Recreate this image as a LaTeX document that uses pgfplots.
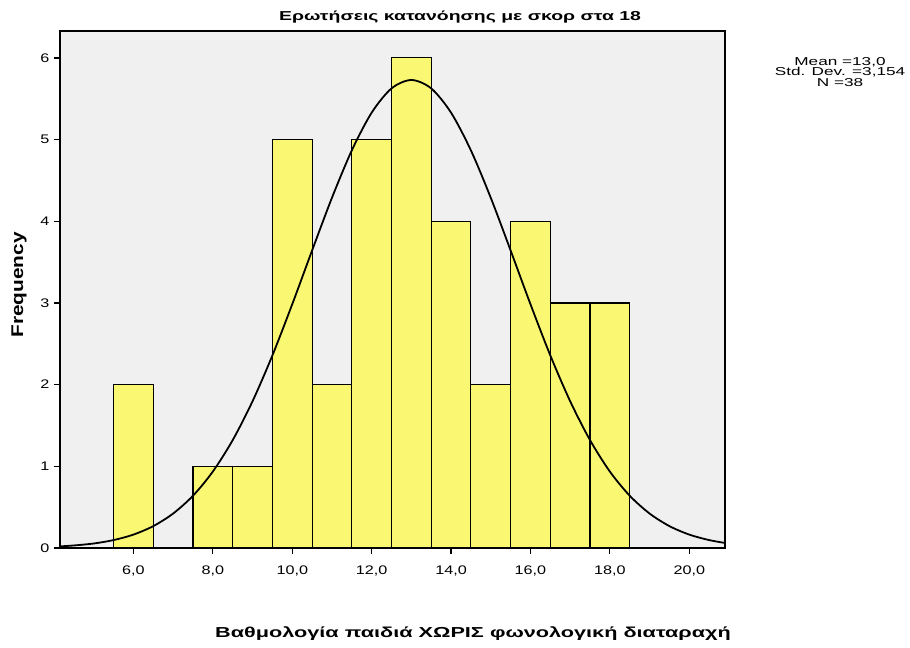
\documentclass[border=0pt]{standalone}
\usepackage{pgfplots}
\pgfplotsset{compat=1.18}
\usepackage{fontspec}
\setmainfont[FakeStretch=1.3]{Liberation Sans}
\newfontfamily\widefont[FakeStretch=1.5]{Liberation Sans}
\newfontfamily\freqfont[FakeStretch=1.23]{Liberation Sans}
\definecolor{barfill}{RGB}{250,247,115}
\definecolor{plotbg}{RGB}{240,240,240}
\begin{document}
\begin{tikzpicture}
\path[use as bounding box, fill=white] (0,0) rectangle (910bp,648bp);
\begin{axis}[
  at={(60bp,100bp)}, anchor=south west,
  scale only axis, width=665bp, height=517bp,
  xmin=4.15, xmax=20.9, ymin=0, ymax=6.33,
  axis background/.style={fill=plotbg},
  axis line style={line width=1.3pt},
  xtick={6,8,...,20}, ytick={0,...,6},
  tick pos=left, tick align=outside,
  major tick length=6bp,
  tick style={line width=1.2pt, black},
  /pgf/number format/assume math mode=true,
  xticklabel style={/pgf/number format/fixed, /pgf/number format/fixed zerofill,
    /pgf/number format/precision=1, /pgf/number format/use comma, yshift=-8bp},
  ticklabel style={font=\fontsize{12.5}{14}\selectfont},
  yticklabel style={xshift=-1bp},
  clip=false,
]
\addplot[ybar, bar width=1, bar shift=0pt, draw=black, line width=1.1pt, fill=barfill]
  coordinates {(6,2) (8,1) (9,1) (10,5) (11,2) (12,5) (13,6) (14,4) (15,2) (16,4) (17,3) (18,3)};
\addplot[black, line width=1.8pt, smooth, no marks]
  table {
  4.15 0.020
  4.5  0.031
  5.0  0.055
  5.5  0.097
  6.0  0.164
  6.5  0.268
  7.0  0.422
  7.5  0.640
  8.0  0.936
  8.5  1.321
  9.0  1.797
  9.5  2.358
  10.0 2.985
  10.5 3.643
  11.0 4.288
  11.5 4.868
  12.0 5.330
  12.5 5.627
  13.0 5.730
  13.5 5.627
  14.0 5.330
  14.5 4.868
  15.0 4.288
  15.5 3.643
  16.0 2.985
  16.5 2.358
  17.0 1.797
  17.5 1.321
  18.0 0.936
  18.5 0.640
  19.0 0.422
  19.5 0.268
  20.0 0.164
  20.5 0.097
  20.9 0.062
  };
\end{axis}
\node[font=\widefont\fontsize{13}{15}\selectfont\bfseries] at (460bp,631bp) {Ερωτήσεις κατανόησης με σκορ στα 18};
\node[font=\widefont\fontsize{14.5}{16}\selectfont\bfseries] at (473bp,14bp) {Βαθμολογία παιδιά ΧΩΡΙΣ φωνολογική διαταραχή};
\node[font=\freqfont\fontsize{17}{20}\selectfont\bfseries, rotate=90] at (19bp,363bp) {Frequency};
\node[font=\widefont\fontsize{11.5}{10.5}\selectfont, align=center] at (840bp,576bp) {Mean =13,0\\Std. Dev. =3,154\\N =38};
\end{tikzpicture}
\end{document}
